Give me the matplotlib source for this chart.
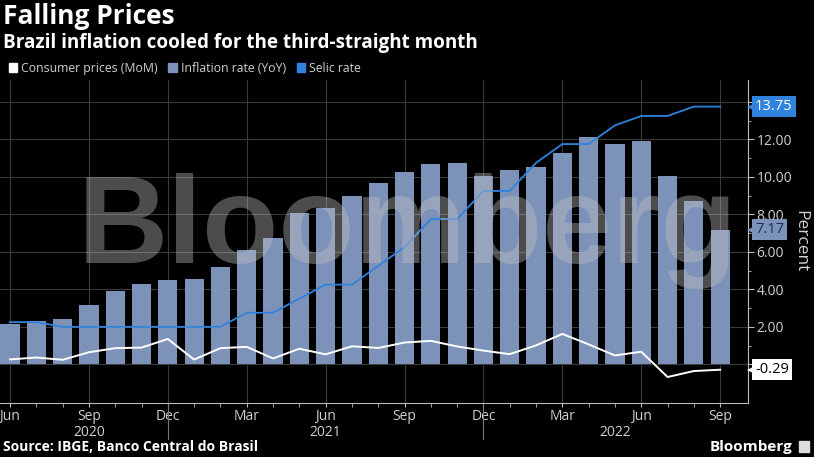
import matplotlib
matplotlib.use("Agg")
import matplotlib.pyplot as plt
import matplotlib.transforms as mtransforms
from matplotlib.patches import Patch
import numpy as np

plt.rcParams['font.family'] = ['Open Sans', 'DejaVu Sans']

# monthly data, Jun 2020 .. Sep 2022
months = ['Jun 2020', 'Jul 2020', 'Aug 2020', 'Sep 2020', 'Oct 2020', 'Nov 2020', 'Dec 2020',
          'Jan 2021', 'Feb 2021', 'Mar 2021', 'Apr 2021', 'May 2021', 'Jun 2021', 'Jul 2021',
          'Aug 2021', 'Sep 2021', 'Oct 2021', 'Nov 2021', 'Dec 2021', 'Jan 2022', 'Feb 2022',
          'Mar 2022', 'Apr 2022', 'May 2022', 'Jun 2022', 'Jul 2022', 'Aug 2022', 'Sep 2022']
yoy = [2.13, 2.31, 2.44, 3.14, 3.92, 4.31, 4.52, 4.56, 5.20, 6.10, 6.76, 8.06, 8.35, 8.99,
       9.68, 10.25, 10.67, 10.74, 10.06, 10.38, 10.54, 11.30, 12.13, 11.73, 11.89, 10.07, 8.73, 7.17]
mom = [0.26, 0.36, 0.24, 0.64, 0.86, 0.89, 1.35, 0.25, 0.86, 0.93, 0.31, 0.83, 0.53, 0.96,
       0.87, 1.16, 1.25, 0.95, 0.73, 0.54, 1.01, 1.62, 1.06, 0.47, 0.67, -0.68, -0.36, -0.29]
selic = [2.25, 2.25, 2.00, 2.00, 2.00, 2.00, 2.00, 2.00, 2.00, 2.75, 2.75, 3.50, 4.25, 4.25,
         5.25, 6.25, 7.75, 7.75, 9.25, 9.25, 10.75, 11.75, 11.75, 12.75, 13.25, 13.25, 13.75, 13.75]

tick_idx = [0, 3, 6, 9, 12, 15, 18, 21, 24, 27]
tick_lab = ['Jun', 'Sep', 'Dec', 'Mar', 'Jun', 'Sep', 'Dec', 'Mar', 'Jun', 'Sep']
years = ['2020', '2021', '2022']
year_pos = [3, 12, 23]
dec_idx = [6, 18]

bg = '#000000'
bar_col = '#7d92b8'
selic_col = '#2f83dd'
txt_col = '#d0d0d0'
grid_col = '#3a3a3a'

fig = plt.figure(figsize=(8.14, 4.57), dpi=100, facecolor=bg)
ax = fig.add_axes([0.0, 0.118, 0.919, 0.707], facecolor=bg)

x = np.arange(len(months))
ax.bar(x, yoy, width=0.73, color=bar_col, zorder=2)
ax.plot(x, selic, color=selic_col, lw=1.3, zorder=3)
ax.plot(x, mom, color='white', lw=1.4, zorder=3)

ax.set_xlim(-0.38, 28.06)
ax.set_ylim(-2.07, 15.17)

# axes styling
for s in ['left', 'top']:
    ax.spines[s].set_visible(False)
ax.spines['right'].set_color('#bbbbbb')
ax.spines['bottom'].set_color('#bbbbbb')
ax.yaxis.tick_right()
ax.set_yticks(np.arange(0, 15, 2))
ax.set_yticklabels([f"{v:.2f}" for v in np.arange(0, 15, 2)])
ax.set_yticks(np.arange(1, 15, 2), minor=True)
ax.tick_params(axis='y', which='both', colors='#bbbbbb', labelcolor=txt_col, labelsize=10,
               length=4, direction='out', pad=2)
ax.tick_params(axis='y', which='minor', length=2)
ax.set_xticks(tick_idx)
ax.set_xticklabels(tick_lab)
ax.set_xticks(x, minor=True)
ax.tick_params(axis='x', which='both', colors='#bbbbbb', labelcolor=txt_col, labelsize=10,
               length=3, pad=1)
ax.grid(True, which='major', color=grid_col, lw=0.8, zorder=0)
ax.set_axisbelow(True)

ax.yaxis.set_label_position('right')
ax.set_ylabel('Percent', rotation=270, color=txt_col, fontsize=12.5, labelpad=12)

trans = mtransforms.blended_transform_factory(ax.transData, ax.transAxes)
for yr, p in zip(years, year_pos):
    ax.text(p, -0.068, yr, transform=trans, ha='center', va='top', color=txt_col, fontsize=10)
for d in dec_idx:
    ax.plot([d, d], [0, -0.11], transform=trans, color='#777777', lw=0.8, clip_on=False)

# watermark
ax.text(0.545, 0.432, 'Bloomberg', transform=ax.transAxes, ha='center', va='baseline',
        fontsize=90, fontweight='bold', family='Liberation Sans', color='#c0c0c0',
        alpha=0.4, zorder=4)

# value tags on the right axis, with a small pointer
tag_trans = mtransforms.offset_copy(
    mtransforms.blended_transform_factory(ax.transAxes, ax.transData), fig, x=2.2, units='points')
tags = [(selic[-1], selic_col, 'white'), (yoy[-1], bar_col, '#1b2d55'), (mom[-1], 'white', 'black')]
for val, fc, tc in tags:
    ax.annotate(f"{val:.2f}", xy=(1.0, val), xycoords=('axes fraction', 'data'),
                xytext=(5, 0), textcoords='offset points', ha='left', va='center',
                fontsize=10.5, color=tc, zorder=6, annotation_clip=False,
                bbox=dict(boxstyle='square,pad=0.2', fc=fc, ec='none'))
    ax.plot([1.0], [val], transform=tag_trans, marker='<', markersize=6, color=fc,
            markeredgewidth=0, clip_on=False, zorder=6)

# titles
fig.text(0.004, 0.963, 'Falling Prices', color='white', fontsize=19, fontweight='bold',
         ha='left', va='center')
fig.text(0.004, 0.905, 'Brazil inflation cooled for the third-straight month', color='white',
         fontsize=13.6, fontweight='bold', ha='left', va='center')

handles = [Patch(color='white', label='Consumer prices (MoM)'),
           Patch(color=bar_col, label='Inflation rate (YoY)'),
           Patch(color=selic_col, label='Selic rate')]
leg = fig.legend(handles=handles, loc='center left', bbox_to_anchor=(-0.003, 0.851), ncol=3,
                 frameon=False, fontsize=8.8, handlelength=0.7, handleheight=0.7,
                 handletextpad=0.3, columnspacing=0.9, labelcolor=txt_col)

fig.text(0.004, 0.022, 'Source: IBGE, Banco Central do Brasil', color='white', fontsize=10,
         fontweight='bold', ha='left', va='center')
fig.text(0.973, 0.022, 'Bloomberg', color='white', fontsize=11, fontweight='bold',
         ha='right', va='center')
fig.patches.append(plt.Rectangle((0.981, 0.010), 0.013, 0.024, transform=fig.transFigure,
                                 color='#dddddd'))

fig.savefig('out.png', dpi=100, facecolor=bg)
